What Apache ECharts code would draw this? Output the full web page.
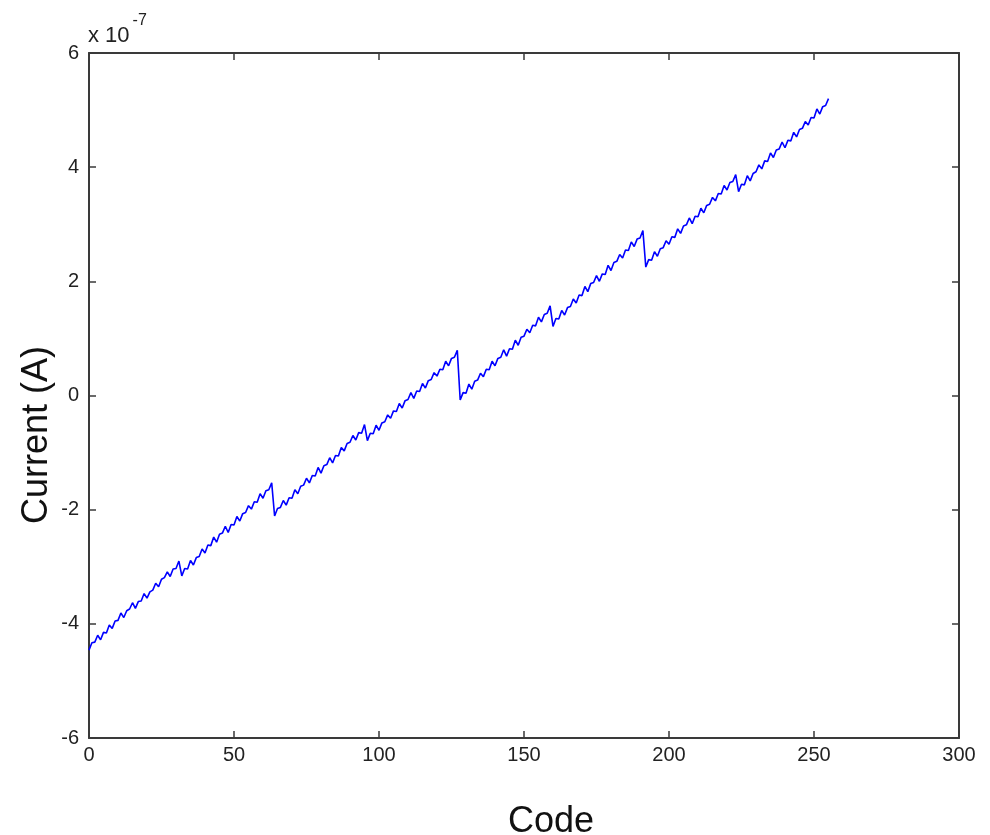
<!DOCTYPE html>
<html>
<head>
<meta charset="utf-8">
<title>Current vs Code</title>
<script src="https://cdn.jsdelivr.net/npm/echarts@6/dist/echarts.min.js"></script>
<style>
  html, body { margin: 0; padding: 0; background: #ffffff; }
  #chart { width: 990px; height: 835px; }
</style>
</head>
<body>
<div id="chart"></div>
<script>
// Measured output current for each input code, in units of 1e-7 A.
// One array per block of 32 codes (0-31, 32-63, ... 224-255).
const block0 = [-4.46, -4.33, -4.32, -4.20, -4.28, -4.15, -4.16, -4.02, -4.08, -3.95, -3.94, -3.81, -3.89, -3.77, -3.74, -3.63,
                -3.73, -3.61, -3.60, -3.47, -3.55, -3.44, -3.41, -3.29, -3.35, -3.22, -3.19, -3.09, -3.17, -3.04, -3.03, -2.90];
const block1 = [-3.16, -3.03, -3.04, -2.89, -2.97, -2.84, -2.82, -2.69, -2.76, -2.62, -2.63, -2.48, -2.57, -2.43, -2.41, -2.29,
                -2.40, -2.26, -2.27, -2.12, -2.20, -2.07, -2.05, -1.93, -1.99, -1.86, -1.87, -1.72, -1.80, -1.67, -1.65, -1.53];
const block2 = [-2.11, -1.98, -1.96, -1.84, -1.92, -1.79, -1.80, -1.65, -1.72, -1.59, -1.57, -1.45, -1.53, -1.40, -1.41, -1.26,
                -1.36, -1.23, -1.21, -1.09, -1.18, -1.05, -1.06, -0.91, -0.97, -0.84, -0.82, -0.70, -0.78, -0.65, -0.66, -0.51];
const block3 = [-0.79, -0.66, -0.67, -0.52, -0.61, -0.48, -0.46, -0.34, -0.40, -0.27, -0.28, -0.14, -0.22, -0.09, -0.07, 0.05,
                -0.05, 0.08, 0.07, 0.21, 0.13, 0.26, 0.28, 0.40, 0.34, 0.46, 0.45, 0.60, 0.52, 0.65, 0.67, 0.79];
const block4 = [-0.08, 0.05, 0.04, 0.20, 0.11, 0.25, 0.27, 0.39, 0.33, 0.46, 0.45, 0.60, 0.52, 0.65, 0.67, 0.80,
                0.69, 0.82, 0.81, 0.97, 0.88, 1.02, 1.04, 1.16, 1.10, 1.23, 1.22, 1.37, 1.29, 1.42, 1.44, 1.57];
const block5 = [1.21, 1.35, 1.34, 1.49, 1.41, 1.54, 1.56, 1.69, 1.62, 1.76, 1.75, 1.91, 1.82, 1.96, 1.98, 2.10,
                2.00, 2.13, 2.12, 2.28, 2.19, 2.33, 2.35, 2.47, 2.41, 2.55, 2.54, 2.69, 2.61, 2.74, 2.76, 2.89];
const block6 = [2.25, 2.38, 2.37, 2.52, 2.44, 2.57, 2.59, 2.71, 2.65, 2.78, 2.77, 2.92, 2.84, 2.97, 2.99, 3.11,
                3.01, 3.14, 3.13, 3.28, 3.20, 3.33, 3.35, 3.47, 3.41, 3.54, 3.53, 3.68, 3.60, 3.73, 3.75, 3.87];
const block7 = [3.57, 3.70, 3.69, 3.85, 3.76, 3.89, 3.92, 4.04, 3.97, 4.11, 4.10, 4.25, 4.17, 4.30, 4.32, 4.44,
                4.34, 4.47, 4.46, 4.61, 4.53, 4.66, 4.68, 4.80, 4.74, 4.87, 4.86, 5.02, 4.93, 5.06, 5.08, 5.20];

const xTicks = [0, 50, 100, 150, 200, 250, 300];
const yTicks = [-6, -4, -2, 0, 2, 4, 6];

const currentE7 = [].concat(block0, block1, block2, block3, block4, block5, block6, block7);
const seriesData = currentE7.map((v, code) => [code, v]);

const chart = echarts.init(document.getElementById('chart'), null, { renderer: 'canvas' });

const FONT = 'Liberation Sans, Arial, sans-serif';
const AXIS_COLOR = '#3a3a3a';

function boxAxis(extra) {
  return Object.assign({
    type: 'value',
    axisLine: { show: true, onZero: false, lineStyle: { color: AXIS_COLOR, width: 2 } },
    axisTick: { show: true, inside: true, length: 7, lineStyle: { color: AXIS_COLOR, width: 1.5 } },
    splitLine: { show: false },
    axisLabel: { show: false }
  }, extra);
}

const labelStyle = { show: true, color: '#222', fontFamily: FONT, fontSize: 20 };

chart.setOption({
  animation: false,
  backgroundColor: '#ffffff',
  grid: { left: 89, right: 31, top: 53, bottom: 97, containLabel: false },
  xAxis: [
    boxAxis({ position: 'bottom', min: xTicks[0], max: xTicks[xTicks.length - 1], interval: 50,
      axisLabel: Object.assign({}, labelStyle, { margin: 7 }) }),
    boxAxis({ position: 'top', min: xTicks[0], max: xTicks[xTicks.length - 1], interval: 50 })
  ],
  yAxis: [
    boxAxis({ position: 'left', min: yTicks[0], max: yTicks[yTicks.length - 1], interval: 2,
      axisLabel: Object.assign({}, labelStyle, { margin: 10 }) }),
    boxAxis({ position: 'right', min: yTicks[0], max: yTicks[yTicks.length - 1], interval: 2 })
  ],
  series: [{
    type: 'line',
    xAxisIndex: 0,
    yAxisIndex: 0,
    data: seriesData,
    showSymbol: false,
    symbol: 'none',
    lineStyle: { color: '#0000ff', width: 1.6 }
  }],
  graphic: [
    {
      type: 'text',
      left: 88,
      top: 13,
      style: {
        text: '{b|x 10}{s|-7}',
        rich: {
          b: { fontFamily: FONT, fontSize: 22, fill: '#222', padding: [12, 0, 0, 0] },
          s: { fontFamily: FONT, fontSize: 16, fill: '#222', verticalAlign: 'top', padding: [0, 0, 10, 3] }
        }
      }
    },
    {
      type: 'text',
      x: 551,
      y: 822,
      style: {
        text: 'Code',
        fontFamily: FONT,
        fontSize: 36,
        fill: '#111',
        textAlign: 'center',
        textVerticalAlign: 'middle'
      }
    },
    {
      type: 'text',
      x: 37,
      y: 435,
      rotation: Math.PI / 2,
      style: {
        text: 'Current (A)',
        fontFamily: FONT,
        fontSize: 36,
        fill: '#111',
        textAlign: 'center',
        textVerticalAlign: 'middle'
      }
    }
  ]
});
</script>
</body>
</html>
